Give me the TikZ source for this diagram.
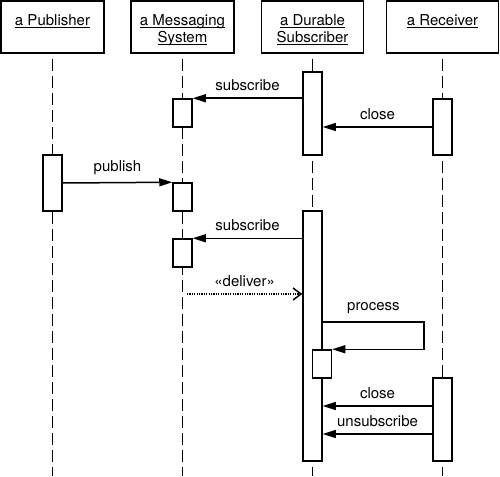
\documentclass[tikz,border=0pt]{standalone}
\usepackage{fontspec}
\setmainfont{TeX Gyre Heros}
\usetikzlibrary{arrows.meta}
\newcommand{\uln}[1]{\underline{\raisebox{0pt}[\height][0pt]{#1}}}
\newcommand{\hdtxt}[1]{\parbox[t][24pt][t]{100pt}{\centering #1}}
\begin{document}
\begin{tikzpicture}[x=1pt,y=-1pt,line width=1.5pt,
	font=\fontsize{15}{17}\selectfont,
	hdr/.style={draw,minimum height=52pt,inner sep=0pt},
	bar/.style={draw,fill=white,minimum width=19pt,inner sep=0pt},
	life/.style={dash pattern=on 12pt off 5pt},
	msg/.style={-{Triangle[length=13pt,width=8pt]}},
	ret/.style={line width=1.2pt,dash pattern=on 1.2pt off 1.2pt,-{Straight Barb[length=8pt,width=12pt,line width=1.5pt]}},
	lbl/.style={above=5pt,inner sep=2pt}]
	\useasboundingbox (0,0) rectangle (500,476);
	% objects
	\node[hdr,minimum width=103pt] (hP) at (52.5,27)  {\hdtxt{\uln{a Publisher}}};
	\node[hdr,minimum width=103pt] (hM) at (182.5,27) {\hdtxt{\uln{a Messaging}\\\uln{System}}};
	\node[hdr,minimum width=102pt] (hD) at (312.5,27) {\hdtxt{\uln{a Durable}\\\uln{Subscriber}}};
	\node[hdr,minimum width=112pt] (hR) at (442.5,27) {\hdtxt{\uln{a Receiver}}};
	% lifelines
	\foreach \h in {hP,hM,hD,hR}
		\draw[life] ([yshift=-5pt]\h.south) -- (\h.south |- 0,476);
	% activations
	\node[bar,minimum height=28pt] (M1) at (182.5,113) {};
	\node[bar,minimum height=83pt] (D1) at (312.5,113.5) {};
	\node[bar,minimum height=56pt] (R1) at (442.5,127) {};
	\node[bar,minimum height=56pt] (P1) at (52.5,183) {};
	\node[bar,minimum height=28pt] (M2) at (182.5,197) {};
	\node[bar,minimum height=28pt] (M3) at (182.5,253) {};
	\node[bar,minimum height=250pt] (D2) at (312.5,336) {};
	\node[bar,minimum height=28pt] (N1) at (322,364) {};
	\node[bar,minimum height=83pt] (R2) at (442.5,419.5) {};
	\coordinate (dlv) at (187,294);
	% messages
	\draw[msg] (D1.west |- M1.north east) -- node[lbl]{subscribe} (M1.north east);
	\draw[msg] (R1.west) -- node[lbl]{close} (R1.west -| D1.east);
	\draw[msg] (P1.east) -- node[lbl]{publish} (M2.north west);
	\draw[msg] (D2.west |- M3.north east) -- node[lbl]{subscribe} (M3.north east);
	\draw[ret] (dlv) -- node[lbl]{«deliver»} (dlv -| D2.west);
	\draw[msg] (D2.east |- 0,322) -- node[lbl]{process} (424,322) |- (N1.north east);
	\draw[msg] (R2.west |- 0,406) -- node[lbl]{close} (D2.east |- 0,406);
	\draw[msg] (R2.west |- 0,434) -- node[lbl]{unsubscribe} (D2.east |- 0,434);
\end{tikzpicture}
\end{document}
